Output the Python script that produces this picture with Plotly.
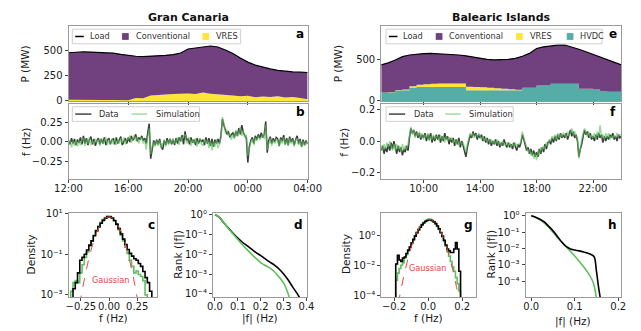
import pandas as pd
import plotly.graph_objects as go

W, H = 641, 331

# ---------------- DATA ----------------
# Panel a: Gran Canaria power (MW), 30-min, 12:00 -> 04:00
gc_load = [478, 485, 488, 485, 483, 478, 474, 462, 450, 443, 440, 442, 447, 452, 460, 475,
           515, 528, 535, 545, 535, 505, 470, 425, 385, 355, 335, 318, 303, 293, 288, 285, 282]
gc_vres = [12, 13, 12, 11, 12, 10, 10, 9, 8, 30, 28, 55, 62, 68, 70, 72,
           75, 70, 85, 72, 68, 58, 55, 48, 52, 38, 45, 40, 48, 35, 40, 30, 18]

# Panel e: Balearic Islands power (MW), 30-min, 07:00 -> 24:00
bi_load = [440, 465, 500, 540, 560, 572, 578, 580, 576, 572, 568, 560, 550, 535, 520, 508, 500, 500,
           508, 520, 545, 580, 640, 660, 672, 680, 682, 660, 630, 600, 568, 535, 500, 470, 440]
bi_hvdc = [103, 103, 131, 131, 165, 170, 170, 170, 170, 170, 170, 170, 131, 131, 131, 131, 131, 131,
           131, 131, 160, 160, 190, 190, 210, 210, 210, 210, 150, 150, 140, 120, 112, 112, 112]
bi_vres = [0, 2, 4, 8, 15, 28, 35, 40, 42, 44, 44, 43, 41, 38, 35, 30, 24, 18,
           12, 5, 1, 0, 0, 0, 0, 0, 0, 0, 0, 0, 0, 0, 0, 0, 0]

# Panel b: Gran Canaria frequency deviation (Hz), 6-min, 12:00 -> 04:00
gc_f_data = [
    0.02, -0.03, 0.05, -0.02, 0.04, -0.04, 0.03, -0.01, 0.06, -0.03,
    0.08, -0.02, 0.05, -0.04, 0.03, 0.07, -0.03, 0.04, -0.05, 0.02,
    0.05, -0.03, 0.04, -0.02, 0.06, -0.04, 0.02, 0.05, -0.03, 0.03,
    0.04, -0.03, 0.06, -0.02, 0.03, 0.07, -0.04, 0.02, 0.05, -0.02,
    0.06, 0.00, 0.08, 0.02, 0.05, 0.10, 0.01, 0.06, 0.03, 0.08,
    0.02, 0.05, -0.02, 0.12, 0.24, -0.22, -0.08, 0.02, -0.04, 0.03,
    -0.03, 0.04, -0.06, -0.10, 0.02, -0.04, 0.05, -0.02, 0.04, -0.03,
    0.03, -0.04, 0.05, -0.02, 0.06, 0.01, 0.09, -0.03, 0.14, 0.02,
    0.04, -0.03, 0.06, -0.01, 0.03, -0.04, 0.05, -0.02, 0.04, 0.00,
    0.03, -0.04, 0.06, -0.02, 0.05, -0.05, 0.04, -0.06, 0.03, -0.02,
    0.04, -0.02, 0.08, 0.30, 0.22, 0.16, 0.10, 0.14, 0.06, 0.10,
    0.12, 0.06, 0.14, 0.08, 0.18, 0.10, 0.22, 0.12, 0.08, 0.05,
    -0.27, -0.06, 0.02, 0.06, -0.02, 0.08, 0.03, 0.10, 0.05, 0.12,
    0.06, 0.10, 0.27, -0.14, 0.02, 0.07, -0.02, 0.05, 0.00, 0.06,
    0.04, -0.05, 0.06, 0.01, 0.09, -0.03, 0.05, -0.04, 0.07, 0.00,
    0.05, -0.04, 0.03, 0.08, -0.02, 0.04, -0.06, 0.03, -0.04, 0.02,
    -0.03]
gc_f_sim = [
    -0.03, 0.02, -0.07, 0.01, -0.05, 0.03, -0.06, 0.02, -0.04, 0.03,
    0.05, -0.05, 0.03, -0.02, 0.06, -0.04, 0.02, -0.03, 0.04, -0.01,
    0.03, -0.05, 0.05, -0.03, 0.02, 0.06, -0.04, 0.03, -0.02, 0.04,
    -0.03, 0.05, -0.04, 0.03, -0.02, 0.05, -0.01, 0.06, -0.03, 0.03,
    0.04, 0.08, -0.01, 0.05, 0.09, 0.02, 0.07, -0.02, 0.04, 0.06,
    -0.02, 0.03, -0.10, 0.06, 0.18, -0.16, -0.05, 0.00, -0.06, 0.02,
    -0.05, 0.02, -0.08, -0.03, 0.03, -0.06, 0.02, -0.04, 0.05, -0.02,
    0.05, -0.03, 0.02, 0.06, -0.04, 0.07, 0.03, 0.08, 0.10, -0.02,
    0.02, 0.06, -0.05, 0.03, -0.02, 0.05, -0.06, 0.02, 0.05, -0.03,
    -0.05, 0.04, -0.02, 0.03, -0.08, 0.02, -0.11, 0.01, -0.06, 0.03,
    -0.08, -0.03, 0.05, 0.33, 0.24, 0.12, 0.16, 0.08, 0.11, 0.03,
    0.10, 0.04, 0.16, 0.07, 0.12, 0.20, 0.08, 0.14, 0.06, 0.09,
    -0.18, -0.09, 0.00, 0.04, -0.04, 0.06, 0.01, 0.08, 0.03, 0.06,
    0.10, 0.04, 0.22, -0.10, 0.00, 0.05, -0.05, 0.03, -0.02, 0.04,
    0.02, -0.06, 0.04, -0.02, 0.06, -0.04, 0.03, -0.05, 0.05, -0.02,
    0.03, -0.06, 0.02, 0.05, -0.04, 0.02, -0.07, 0.01, -0.05, 0.00,
    -0.02]

# Panel f: Balearic Islands frequency deviation (Hz), 6-min, 07:00 -> 24:00
bi_f_data = [
    -0.06, -0.03, -0.08, -0.04, -0.07, -0.02, -0.06, -0.01, -0.05, 0.00,
    -0.04, -0.08, -0.03, -0.07, -0.04, -0.09, -0.05, -0.07, -0.03, -0.06,
    0.02, 0.08, 0.05, 0.07, 0.03, 0.06, 0.02, 0.05, 0.01, 0.04,
    0.02, 0.05, 0.00, 0.04, 0.01, 0.05, -0.01, 0.03, 0.00, 0.04,
    0.01, 0.04, -0.01, 0.03, 0.00, 0.05, 0.01, 0.03, -0.02, 0.02,
    -0.01, 0.02, -0.03, 0.01, -0.02, 0.02, -0.04, 0.00, -0.03, -0.06,
    -0.10, -0.04, 0.00, 0.04, 0.02, 0.06, 0.03, 0.05, 0.01, 0.04,
    0.02, 0.04, 0.00, 0.03, -0.01, 0.02, -0.02, 0.01, -0.03, 0.00,
    -0.02, 0.01, -0.03, 0.00, -0.04, -0.01, -0.03, 0.01, -0.02, -0.04,
    -0.01, -0.04, -0.02, -0.05, -0.01, -0.03, -0.06, -0.02, -0.04, -0.01,
    0.04, 0.01, -0.03, -0.06, -0.04, -0.08, -0.05, -0.09, -0.06, -0.10,
    -0.07, -0.10, -0.05, -0.08, -0.04, -0.07, -0.02, -0.05, -0.01, 0.00,
    -0.02, 0.02, -0.01, 0.03, 0.00, 0.04, 0.01, 0.05, 0.02, 0.04,
    0.02, 0.05, 0.01, 0.04, 0.07, 0.03, 0.06, 0.02, 0.04, 0.00,
    -0.10, -0.05, -0.02, 0.03, 0.07, 0.04, 0.06, 0.02, 0.05, 0.01,
    0.03, 0.00, 0.04, 0.01, 0.05, 0.02, 0.04, -0.01, 0.03, 0.00,
    0.03, 0.01, 0.04, 0.02, 0.05, 0.01, 0.03, 0.00, 0.04, 0.02,
    0.03]
bi_f_sim = [
    -0.03, -0.06, -0.02, -0.05, -0.01, -0.04, 0.00, -0.03, -0.06, -0.02,
    -0.06, -0.02, -0.05, -0.03, -0.07, -0.02, -0.06, -0.03, -0.05, -0.02,
    0.05, 0.09, 0.04, 0.07, 0.02, 0.05, 0.03, 0.06, 0.02, 0.05,
    0.01, 0.04, 0.02, 0.05, 0.00, 0.03, 0.01, 0.04, 0.01, 0.03,
    0.03, 0.00, 0.04, 0.01, 0.03, -0.01, 0.03, 0.00, 0.02, 0.01,
    0.02, -0.01, 0.01, -0.02, 0.01, -0.03, 0.00, -0.02, -0.01, -0.04,
    -0.07, -0.02, 0.02, 0.05, 0.03, 0.05, 0.02, 0.04, 0.03, 0.05,
    0.03, 0.01, 0.03, 0.00, 0.02, 0.00, 0.01, -0.01, 0.01, -0.02,
    0.00, -0.02, 0.01, -0.02, -0.01, -0.03, 0.00, -0.02, -0.03, -0.01,
    -0.03, -0.01, -0.04, -0.02, -0.03, -0.01, -0.04, -0.02, -0.02, 0.00,
    0.06, 0.02, -0.02, -0.04, -0.07, -0.05, -0.09, -0.07, -0.11, -0.08,
    -0.12, -0.06, -0.09, -0.04, -0.06, -0.03, -0.05, -0.01, -0.03, 0.01,
    0.00, 0.03, 0.01, 0.04, 0.01, 0.05, 0.02, 0.04, 0.03, 0.05,
    0.04, 0.02, 0.06, 0.03, 0.05, 0.08, 0.04, 0.06, 0.03, 0.02,
    -0.11, -0.03, 0.01, 0.05, 0.08, 0.05, 0.03, 0.06, 0.02, 0.04,
    0.02, 0.05, 0.01, 0.06, 0.03, 0.10, 0.02, 0.04, 0.01, 0.05,
    0.02, 0.05, 0.01, 0.03, 0.02, 0.04, 0.02, 0.05, 0.03, 0.04,
    0.04]

# Panel c: Gran Canaria histogram (bin centres, densities)
gc_hist_data_x = [-0.31, -0.29, -0.27, -0.25, -0.23, -0.21, -0.19, -0.17, -0.15, -0.13, -0.11, -0.09,
                  -0.07, -0.05, -0.03, -0.01, 0.01, 0.03, 0.05, 0.07, 0.09, 0.11, 0.13, 0.15, 0.17,
                  0.19, 0.21, 0.23, 0.25, 0.27, 0.29, 0.31, 0.33, 0.35, 0.37]
gc_hist_data_y = [0.002, 0.004, 0.012, 0.05, 0.07, 0.10, 0.16, 0.28, 0.45, 0.80, 1.4, 2.2,
                  3.3, 4.6, 5.9, 6.8, 6.9, 6.0, 4.5, 3.0, 1.8, 1.0, 0.55, 0.30, 0.17,
                  0.11, 0.08, 0.06, 0.05, 0.035, 0.025, 0.014, 0.007, 0.004, 0.0015]
gc_hist_sim_x = [-0.33, -0.31, -0.29, -0.27, -0.25, -0.23, -0.21, -0.19, -0.17, -0.15, -0.13, -0.11,
                 -0.09, -0.07, -0.05, -0.03, -0.01, 0.01, 0.03, 0.05, 0.07, 0.09, 0.11, 0.13, 0.15,
                 0.17, 0.19, 0.21, 0.23, 0.25, 0.27, 0.29, 0.31, 0.33]
gc_hist_sim_y = [0.0015, 0.004, 0.005, 0.004, 0.012, 0.03, 0.07, 0.13, 0.25, 0.45, 0.85, 1.5,
                 2.4, 3.6, 5.0, 6.4, 7.5, 7.3, 6.0, 4.3, 2.8, 1.6, 0.85, 0.45, 0.22,
                 0.11, 0.05, 0.025, 0.012, 0.015, 0.010, 0.008, 0.005, 0.001]
gc_gauss_x = [-0.26, -0.24, -0.22, -0.20, -0.18, -0.16, -0.14, -0.12, -0.10, -0.08, -0.06, -0.04, -0.02,
              0.0, 0.02, 0.04, 0.06, 0.08, 0.10, 0.12, 0.14, 0.16, 0.18, 0.20, 0.22, 0.24, 0.26]
gc_gauss_y = [0.00033, 0.00144, 0.00557, 0.0192, 0.0586, 0.159, 0.384, 0.826, 1.58, 2.68, 4.05, 5.43, 6.48,
              6.87, 6.48, 5.43, 4.05, 2.68, 1.58, 0.826, 0.384, 0.159, 0.0586, 0.0192, 0.00557, 0.00144, 0.00033]

# Panel d: Gran Canaria rank of |f|
gc_rank_data_x = [0, 0.02, 0.04, 0.06, 0.08, 0.10, 0.12, 0.14, 0.16, 0.18, 0.20, 0.22, 0.24, 0.26,
                  0.28, 0.30, 0.32, 0.34, 0.36, 0.38]
gc_rank_data_y = [1.0, 0.70, 0.36, 0.20, 0.11, 0.065, 0.040, 0.027, 0.018, 0.012, 0.0085, 0.0058, 0.0040,
                  0.0028, 0.0018, 0.0010, 0.0005, 0.00022, 0.0001, 0.00004]
gc_rank_sim_x = [0, 0.02, 0.04, 0.06, 0.08, 0.10, 0.12, 0.14, 0.16, 0.18, 0.20, 0.22, 0.24, 0.26,
                 0.28, 0.30, 0.32, 0.33]
gc_rank_sim_y = [1.0, 0.70, 0.36, 0.19, 0.10, 0.055, 0.030, 0.017, 0.010, 0.006, 0.0038, 0.0027, 0.0020,
                 0.0013, 0.0007, 0.00035, 0.0001, 0.00004]

# Panel g: Balearic histogram
bi_hist_x = [-0.185, -0.175, -0.165, -0.155, -0.145, -0.135, -0.125, -0.115, -0.105, -0.095, -0.085,
             -0.075, -0.065, -0.055, -0.045, -0.035, -0.025, -0.015, -0.005, 0.005, 0.015, 0.025,
             0.035, 0.045, 0.055, 0.065, 0.075, 0.085, 0.095, 0.105, 0.115, 0.125, 0.135, 0.145,
             0.155, 0.165, 0.175, 0.185]
bi_hist_data_y = [0.012, 0.045, 0.022, 0.018, 0.03, 0.035, 0.06, 0.10, 0.16, 0.30, 0.50,
                  0.85, 1.4, 2.2, 3.3, 4.8, 6.3, 8.0, 9.4, 10.5, 10.2, 9.0,
                  7.6, 5.8, 4.0, 2.6, 1.5, 0.85, 0.45, 0.22, 0.12, 0.09, 0.07, 0.07,
                  0.12, 0.32, 0.12, 0.004]
bi_hist_sim_y = [0.001, 0.003, 0.006, 0.010, 0.015, 0.03, 0.05, 0.09, 0.16, 0.30, 0.55,
                 0.95, 1.6, 2.5, 3.7, 5.2, 6.8, 8.4, 10.0, 11.5, 11.0, 9.6,
                 7.8, 5.8, 3.9, 2.4, 1.4, 0.75, 0.38, 0.18, 0.08, 0.04, 0.018, 0.008,
                 0.004, 0.0015, 0.0006, 0.0002]
bi_gauss_x = [-0.175, -0.155, -0.135, -0.115, -0.095, -0.075, -0.055, -0.035, -0.015, 0.005,
              0.025, 0.045, 0.065, 0.085, 0.105, 0.125, 0.145, 0.165, 0.185]
bi_gauss_y = [0.000028, 0.000418, 0.00459, 0.0364, 0.211, 0.883, 2.69, 5.98, 9.64, 11.3,
              9.64, 5.98, 2.69, 0.883, 0.211, 0.0364, 0.00459, 0.000418, 0.000028]

# Panel h: Balearic rank of |f|
bi_rank_data_x = [0, 0.01, 0.02, 0.03, 0.04, 0.05, 0.06, 0.07, 0.08, 0.09, 0.10, 0.11, 0.12, 0.13,
                  0.14, 0.145, 0.15, 0.155, 0.16, 0.165]
bi_rank_data_y = [1, 0.82, 0.62, 0.42, 0.23, 0.12, 0.055, 0.025, 0.0135, 0.0095, 0.0082, 0.0072,
                  0.0062, 0.0052, 0.0040, 0.0030, 0.0004, 0.00004, 0.000006, 0.000001]
bi_rank_sim_x = [0, 0.01, 0.02, 0.03, 0.04, 0.05, 0.06, 0.07, 0.08, 0.09, 0.10, 0.11, 0.12, 0.13,
                 0.14, 0.145, 0.15, 0.155]
bi_rank_sim_y = [1, 0.78, 0.56, 0.36, 0.20, 0.10, 0.048, 0.025, 0.013, 0.0068, 0.0035, 0.0017,
                 0.0008, 0.00035, 0.00012, 0.00005, 0.000008, 0.000001]

# ---------------- STYLE ----------------
PURPLE = '#71407f'
YELLOW = '#fde636'
TEAL = '#56aca6'
DATA_C = 'rgba(25,25,25,0.85)'
SIM_C = 'rgba(95,195,95,0.62)'
HIST_G = '#5fbf5f'
RED = '#e8464a'
FONT = 'DejaVu Sans'

gc_t = pd.date_range('2019-01-19 12:00', periods=len(gc_load), freq='30min')
bi_t = pd.date_range('2019-01-19 07:00', periods=len(bi_load), freq='30min')
gc_tf = pd.date_range('2019-01-19 12:00', periods=len(gc_f_data), freq='6min')
bi_tf = pd.date_range('2019-01-19 07:00', periods=len(bi_f_data), freq='6min')


def fx(p):
    return p / W


def fy(p):
    return 1 - p / H


def step_xy(centres, vals):
    w = centres[1] - centres[0]
    xs = [centres[0] - w / 2] + [c - w / 2 for c in centres] + [centres[-1] + w / 2, centres[-1] + w / 2]
    ys = [1e-9] + list(vals) + [vals[-1], 1e-9]
    return xs, ys


fig = go.Figure()

# a
fig.add_trace(go.Scatter(x=gc_t, y=gc_vres, mode='lines', line=dict(width=0), fill='tozeroy',
                         fillcolor=YELLOW, name='VRES', xaxis='x', yaxis='y', showlegend=False))
fig.add_trace(go.Scatter(x=gc_t, y=gc_load, mode='lines', line=dict(color='black', width=1.2),
                         fill='tonexty', fillcolor=PURPLE, name='Conventional', xaxis='x', yaxis='y',
                         showlegend=False))
# e
bi_hv = [h + v for h, v in zip(bi_hvdc, bi_vres)]
fig.add_trace(go.Scatter(x=bi_t, y=bi_hvdc, mode='lines', line=dict(width=0, shape='hv'), fill='tozeroy',
                         fillcolor=TEAL, name='HVDC', xaxis='x3', yaxis='y3', showlegend=False))
fig.add_trace(go.Scatter(x=bi_t, y=bi_hv, mode='lines', line=dict(width=0, shape='hv'), fill='tonexty',
                         fillcolor=YELLOW, name='VRES', xaxis='x3', yaxis='y3', showlegend=False))
fig.add_trace(go.Scatter(x=bi_t, y=bi_load, mode='lines', line=dict(color='black', width=1.2),
                         fill='tonexty', fillcolor=PURPLE, name='Conventional', xaxis='x3', yaxis='y3',
                         showlegend=False))
# b
fig.add_trace(go.Scatter(x=gc_tf, y=gc_f_data, mode='lines', line=dict(color=DATA_C, width=1.5),
                         xaxis='x2', yaxis='y2', showlegend=False, name='Data'))
fig.add_trace(go.Scatter(x=gc_tf, y=gc_f_sim, mode='lines', line=dict(color=SIM_C, width=1.5),
                         xaxis='x2', yaxis='y2', showlegend=False, name='Simulation'))
# f
fig.add_trace(go.Scatter(x=bi_tf, y=bi_f_data, mode='lines', line=dict(color=DATA_C, width=1.5),
                         xaxis='x4', yaxis='y4', showlegend=False, name='Data'))
fig.add_trace(go.Scatter(x=bi_tf, y=bi_f_sim, mode='lines', line=dict(color=SIM_C, width=1.5),
                         xaxis='x4', yaxis='y4', showlegend=False, name='Simulation'))
# c
for cx, cy, col in [(gc_hist_sim_x, gc_hist_sim_y, HIST_G), (gc_hist_data_x, gc_hist_data_y, 'black')]:
    sx, sy = step_xy(cx, cy)
    fig.add_trace(go.Scatter(x=sx, y=sy, mode='lines', line=dict(color=col, width=1.6, shape='hv'),
                             xaxis='x5', yaxis='y5', showlegend=False))
fig.add_trace(go.Scatter(x=gc_gauss_x, y=gc_gauss_y, mode='lines',
                         line=dict(color=RED, width=1, dash='dash', shape='spline'),
                         xaxis='x5', yaxis='y5', showlegend=False))
# d
fig.add_trace(go.Scatter(x=gc_rank_data_x, y=gc_rank_data_y, mode='lines',
                         line=dict(color='black', width=1.6, shape='spline'),
                         xaxis='x6', yaxis='y6', showlegend=False))
fig.add_trace(go.Scatter(x=gc_rank_sim_x, y=gc_rank_sim_y, mode='lines',
                         line=dict(color=HIST_G, width=1.6, shape='spline'),
                         xaxis='x6', yaxis='y6', showlegend=False))
# g
for cy, col in [(bi_hist_sim_y, HIST_G), (bi_hist_data_y, 'black')]:
    sx, sy = step_xy(bi_hist_x, cy)
    fig.add_trace(go.Scatter(x=sx, y=sy, mode='lines', line=dict(color=col, width=1.6, shape='hv'),
                             xaxis='x7', yaxis='y7', showlegend=False))
fig.add_trace(go.Scatter(x=bi_gauss_x, y=bi_gauss_y, mode='lines',
                         line=dict(color=RED, width=1, dash='dash', shape='spline'),
                         xaxis='x7', yaxis='y7', showlegend=False))
# h
fig.add_trace(go.Scatter(x=bi_rank_sim_x, y=bi_rank_sim_y, mode='lines',
                         line=dict(color=HIST_G, width=1.6, shape='spline'),
                         xaxis='x8', yaxis='y8', showlegend=False))
fig.add_trace(go.Scatter(x=bi_rank_data_x, y=bi_rank_data_y, mode='lines',
                         line=dict(color='black', width=1.6, shape='spline'),
                         xaxis='x8', yaxis='y8', showlegend=False))


def axis(x0=None, x1=None, y0=None, y1=None, **kw):
    d = dict(showgrid=False, zeroline=False, showline=True, linecolor='#9a9a9a', linewidth=1, mirror=True,
             ticks='outside', ticklen=3, tickcolor='#444', tickwidth=1, tickangle=0,
             tickfont=dict(size=10, color='#1a1a1a', family=FONT))
    if x0 is not None:
        d['domain'] = [fx(x0), fx(x1)]
    else:
        d['domain'] = [fy(y1), fy(y0)]
    d.update(kw)
    return d


SUP = {'0': '\u2070', '1': '\u00b9', '2': '\u00b2', '3': '\u00b3', '4': '\u2074', '-': '\u207b'}


def sup(e):
    return '10' + ''.join(SUP[ch] for ch in str(e))


gc_ticks = pd.to_datetime(['2019-01-19 12:00', '2019-01-19 16:00', '2019-01-19 20:00',
                           '2019-01-20 00:00', '2019-01-20 04:00'])
bi_ticks = pd.to_datetime(['2019-01-19 10:00', '2019-01-19 14:00', '2019-01-19 18:00', '2019-01-19 22:00'])
gc_rng = ['2019-01-19 12:00', '2019-01-20 04:00']
bi_rng = ['2019-01-19 07:00', '2019-01-20 00:00']

XS = dict(ticklabelstandoff=-3)

layout = dict(
    width=W, height=H, margin=dict(l=0, r=0, t=0, b=0), paper_bgcolor='white', plot_bgcolor='white',
    font=dict(family=FONT, color='#1a1a1a'), showlegend=False,
    # a
    xaxis=axis(57, 307, anchor='y', range=gc_rng, tickvals=gc_ticks[1:4], showticklabels=False),
    yaxis=axis(y0=23, y1=100, anchor='x', range=[0, 740], tickvals=[0, 250, 500]),
    # b
    xaxis2=axis(57, 307, anchor='y2', range=gc_rng, tickvals=gc_ticks,
                ticktext=['12:00', '16:00', '20:00', '00:00', '04:00'], **XS),
    yaxis2=axis(y0=103, y1=180, anchor='x2', range=[-0.48, 0.50], tickvals=[-0.25, 0, 0.25],
                ticktext=['\u22120.25', '0.00', '0.25']),
    # e
    xaxis3=axis(384, 635, anchor='y3', range=bi_rng, tickvals=bi_ticks, showticklabels=False),
    yaxis3=axis(y0=23, y1=100, anchor='x3', range=[0, 910], tickvals=[0, 500]),
    # f
    xaxis4=axis(384, 635, anchor='y4', range=bi_rng, tickvals=bi_ticks,
                ticktext=['10:00', '14:00', '18:00', '22:00'], **XS),
    yaxis4=axis(y0=103, y1=180, anchor='x4', range=[-0.237, 0.235], tickvals=[-0.2, 0, 0.2],
                ticktext=['\u22120.2', '0.0', '0.2']),
    # c
    xaxis5=axis(57, 150, anchor='y5', range=[-0.36, 0.43], tickvals=[-0.25, 0, 0.25],
                ticktext=['\u22120.25', '0.00', '0.25'], **XS),
    yaxis5=axis(y0=215, y1=302, anchor='x5', type='log', range=[-3.1, 1.05], tickvals=[10, 0.1, 0.001],
                ticktext=[sup(1), sup(-1), sup(-3)]),
    # d
    xaxis6=axis(208, 306, anchor='y6', range=[-0.009, 0.4005], tickvals=[0, 0.1, 0.2, 0.3, 0.4],
                ticktext=['0.0', '0.1', '0.2', '0.3', '0.4'], **XS),
    yaxis6=axis(y0=215, y1=302, anchor='x6', type='log', range=[-4.15, 0.1],
                tickvals=[1, 0.1, 0.01, 0.001, 0.0001], ticktext=[sup(0), sup(-1), sup(-2), sup(-3), sup(-4)]),
    # g
    xaxis7=axis(384, 483, anchor='y7', range=[-0.275, 0.28], tickvals=[-0.2, 0, 0.2],
                ticktext=['\u22120.2', '0.0', '0.2'], **XS),
    yaxis7=axis(y0=215, y1=302, anchor='x7', type='log', range=[-4.1, 1.5], tickvals=[1, 0.01, 0.0001],
                ticktext=[sup(0), sup(-2), sup(-4)]),
    # h
    xaxis8=axis(535, 635, anchor='y8', range=[-0.013, 0.207], tickvals=[0, 0.1, 0.2],
                ticktext=['0.0', '0.1', '0.2'], **XS),
    yaxis8=axis(y0=215, y1=302, anchor='x8', type='log', range=[-4.95, 0.2],
                tickvals=[1, 0.1, 0.01, 0.001, 0.0001], ticktext=[sup(0), sup(-1), sup(-2), sup(-3), sup(-4)]),
)
fig.update_layout(**layout)

shapes = []
annos = []


def text(x, y, s, size=10, color='#1a1a1a', xanchor='center', angle=0, bold=False):
    annos.append(dict(x=fx(x), y=fy(y), xref='paper', yref='paper', text=('<b>%s</b>' % s) if bold else s,
                      showarrow=False, xanchor=xanchor, yanchor='middle', textangle=angle,
                      font=dict(size=size, color=color, family=FONT)))


def box(x0, y0, x1, y1):
    shapes.append(dict(type='rect', xref='paper', yref='paper', x0=fx(x0), x1=fx(x1), y0=fy(y1), y1=fy(y0),
                       fillcolor='rgba(255,255,255,0.85)', line=dict(color='#d0d0d0', width=1)))


def lline(x0, x1, y, color):
    shapes.append(dict(type='line', xref='paper', yref='paper', x0=fx(x0), x1=fx(x1), y0=fy(y), y1=fy(y),
                       line=dict(color=color, width=1.5)))


def lsq(x0, y, color, s=7):
    shapes.append(dict(type='rect', xref='paper', yref='paper', x0=fx(x0), x1=fx(x0 + s),
                       y0=fy(y + s / 2), y1=fy(y - s / 2), fillcolor=color, line=dict(width=0)))


LT = 8.2
LC = '#333333'
# legend a
box(61, 26, 237, 41)
lline(64, 73, 33.5, 'black'); text(77, 33.5, 'Load', LT, LC, 'left')
lsq(113, 33.5, PURPLE); text(125, 33.5, 'Conventional', LT, LC, 'left')
lsq(197, 33.5, YELLOW); text(209, 33.5, 'VRES', LT, LC, 'left')
# legend e
box(389, 26, 615, 41)
lline(392, 401, 33.5, 'black'); text(405, 33.5, 'Load', LT, LC, 'left')
lsq(441, 33.5, PURPLE); text(453, 33.5, 'Conventional', LT, LC, 'left')
lsq(525, 33.5, YELLOW); text(537, 33.5, 'VRES', LT, LC, 'left')
lsq(578, 33.5, TEAL); text(590, 33.5, 'HVDC', LT, LC, 'left')
# legend b
box(61, 106, 194, 121)
lline(64, 81, 113.5, '#444'); text(87, 113.5, 'Data', LT, LC, 'left')
lline(123, 139, 113.5, '#a3d9a3'); text(146, 113.5, 'Simulation', LT, LC, 'left')
# legend f
box(389, 106, 522, 121)
lline(392, 409, 113.5, '#444'); text(416, 113.5, 'Data', LT, LC, 'left')
lline(451, 467, 113.5, '#a3d9a3'); text(474, 113.5, 'Simulation', LT, LC, 'left')

# titles
text(182, 14, 'Gran Canaria', 11, '#111', bold=True)
text(510, 14, 'Balearic Islands', 11, '#111', bold=True)
# panel letters
for lx, ly, s in [(299, 31, 'a'), (300, 111, 'b'), (626, 31, 'e'), (626, 111, 'f'),
                  (144, 228, 'c'), (297, 228, 'd'), (475, 228, 'g'), (626, 228, 'h')]:
    text(lx, ly, s, 12, '#000', bold=True)
# axis titles
for ax_x, ax_y, s in [(12, 62, 'P (MW)'), (12, 142, 'f (Hz)'), (339, 62, 'P (MW)'), (345, 142, 'f (Hz)'),
                      (18, 258, 'Density'), (172, 258, 'Rank (|f|)'), (347, 258, 'Density'),
                      (499, 258, 'Rank (|f|)')]:
    text(ax_x, ax_y, s, 10.5, '#1a1a1a', angle=-90)
for ax_x, ax_y, s in [(104, 324, 'f (Hz)'), (257, 324, '|f| (Hz)'), (433, 324, 'f (Hz)'),
                      (585, 327, '|f| (Hz)')]:
    text(ax_x, ax_y, s, 10.5)
# Gaussian labels
text(101, 285, 'Gaussian', 8.2, RED)
text(433, 272, 'Gaussian', 8.2, RED)

fig.update_layout(shapes=shapes, annotations=annos)
fig.write_html('out.html', config={'displayModeBar': False},
               post_script="document.body.style.margin='0';document.body.style.overflow='hidden';")
